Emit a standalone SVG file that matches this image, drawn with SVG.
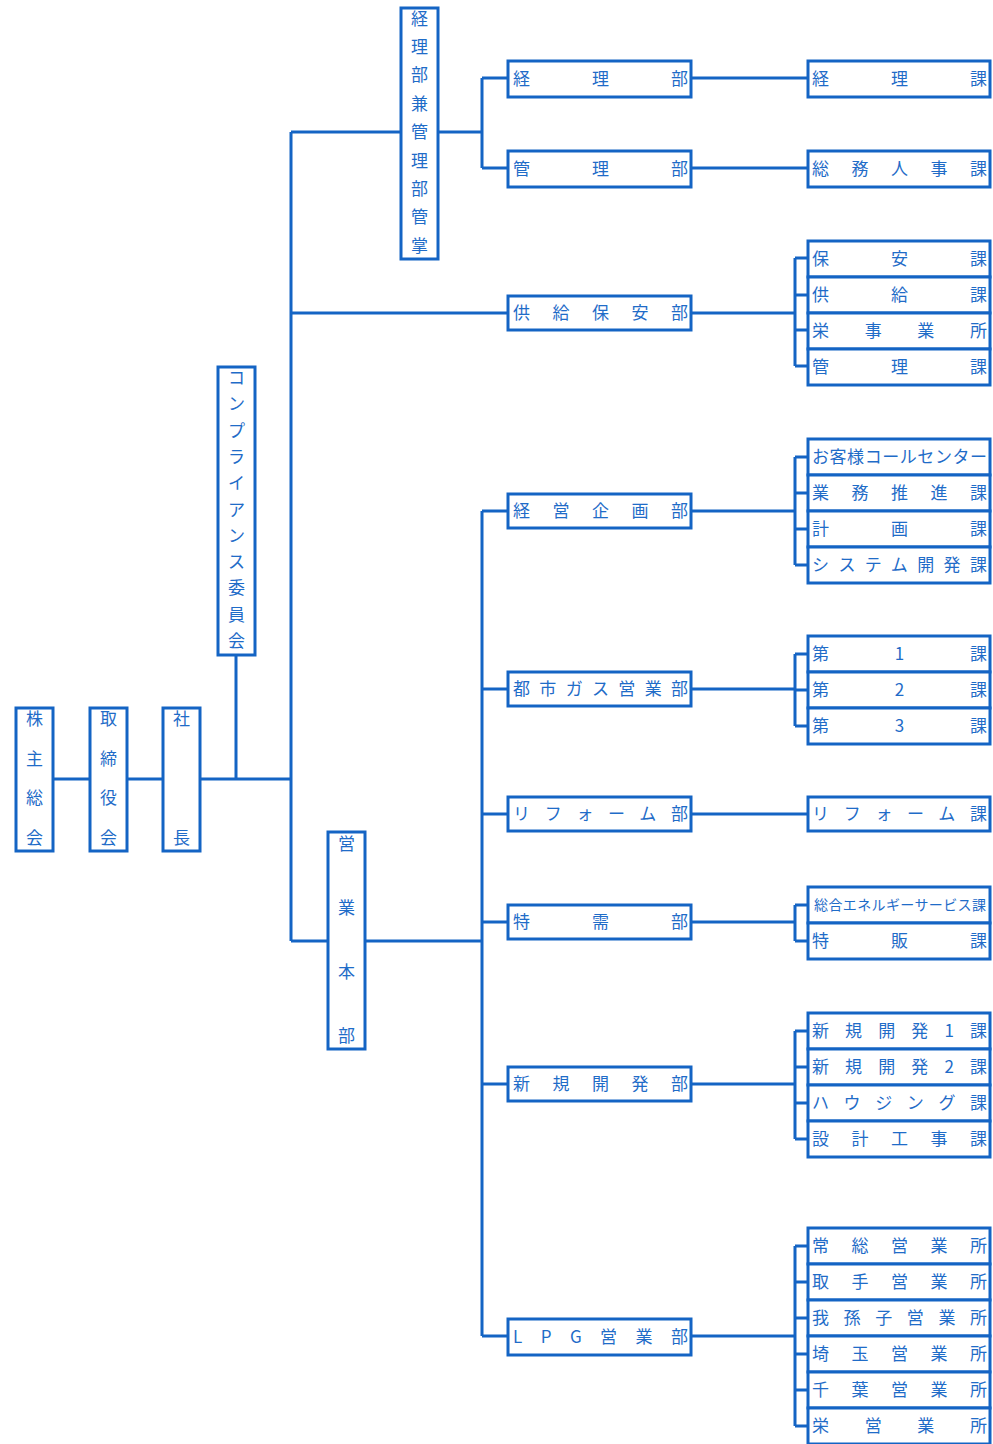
<svg xmlns="http://www.w3.org/2000/svg" width="993" height="1444" viewBox="0 0 993 1444">
<style>
.box{fill:#fff;stroke:#1464c4;stroke-width:3}
.ln{fill:none;stroke:#1464c4;stroke-width:3}
text{font-family:"Noto Sans CJK JP","Noto Sans CJK SC",sans-serif;font-size:17px;fill:#1f6cc8}
.vt{text-anchor:middle}
</style>
<rect width="993" height="1444" fill="#fff"/>
<g id="connectors">
<path class="ln" d="M53 779H90M127 779H163M200 779H291M236 655V779"/>
<path class="ln" d="M291 132V941M291 132H401M291 313H508M291 941H328"/>
<path class="ln" d="M438 132H482M482 78V168M482 78H508M482 168H508M691 78H808M691 168H808"/>
<path class="ln" d="M691 313H795M795 258V366M795 258H808M795 295H808M795 330H808M795 366H808"/>
<path class="ln" d="M365 941H482M482 511V1336M482 511H508M482 689H508M482 814H508M482 922H508M482 1084H508M482 1336H508"/>
<path class="ln" d="M691 511H795M795 457V565M795 457H808M795 493H808M795 529H808M795 565H808"/>
<path class="ln" d="M691 689H795M795 654V726M795 654H808M795 690H808M795 726H808"/>
<path class="ln" d="M691 814H808"/>
<path class="ln" d="M691 922H795M795 905V941M795 905H808M795 941H808"/>
<path class="ln" d="M691 1084H795M795 1031V1139M795 1031H808M795 1067H808M795 1103H808M795 1139H808"/>
<path class="ln" d="M691 1336H795M795 1246V1426M795 1246H808M795 1282H808M795 1318H808M795 1354H808M795 1390H808M795 1426H808"/>
</g>
<g id="n-kabunushi"><rect class="box" x="16" y="708" width="37" height="143"/><text class="vt"><tspan x="34.5" y="725">株</tspan><tspan x="34.5" y="765">主</tspan><tspan x="34.5" y="804">総</tspan><tspan x="34.5" y="844">会</tspan></text></g>
<g id="n-torishimari"><rect class="box" x="90" y="708" width="37" height="143"/><text class="vt"><tspan x="108.5" y="725">取</tspan><tspan x="108.5" y="765">締</tspan><tspan x="108.5" y="804">役</tspan><tspan x="108.5" y="844">会</tspan></text></g>
<g id="n-shacho"><rect class="box" x="163" y="708" width="37" height="143"/><text class="vt"><tspan x="181.5" y="725">社</tspan><tspan x="181.5" y="844">長</tspan></text></g>
<g id="n-compliance"><rect class="box" x="218" y="367" width="37" height="288"/><text class="vt"><tspan x="236.5" y="384">コ</tspan><tspan x="236.5" y="410">ン</tspan><tspan x="236.5" y="437">プ</tspan><tspan x="236.5" y="463">ラ</tspan><tspan x="236.5" y="489">イ</tspan><tspan x="236.5" y="516">ア</tspan><tspan x="236.5" y="542">ン</tspan><tspan x="236.5" y="568">ス</tspan><tspan x="236.5" y="594">委</tspan><tspan x="236.5" y="621">員</tspan><tspan x="236.5" y="647">会</tspan></text></g>
<g id="n-keiri-kanri"><rect class="box" x="401" y="8" width="37" height="251"/><text class="vt"><tspan x="419.5" y="25">経</tspan><tspan x="419.5" y="53">理</tspan><tspan x="419.5" y="81">部</tspan><tspan x="419.5" y="110">兼</tspan><tspan x="419.5" y="138">管</tspan><tspan x="419.5" y="167">理</tspan><tspan x="419.5" y="195">部</tspan><tspan x="419.5" y="223">管</tspan><tspan x="419.5" y="252">掌</tspan></text></g>
<g id="n-eigyohonbu"><rect class="box" x="328" y="832" width="37" height="217"/><text class="vt"><tspan x="346.5" y="850">営</tspan><tspan x="346.5" y="914">業</tspan><tspan x="346.5" y="978">本</tspan><tspan x="346.5" y="1042">部</tspan></text></g>
<g id="d-keiri"><rect class="box" x="508" y="61" width="183" height="36"/><text x="513" y="85" textLength="175" lengthAdjust="spacing">経理部</text></g>
<g id="d-kanri"><rect class="box" x="508" y="151" width="183" height="36"/><text x="513" y="175" textLength="175" lengthAdjust="spacing">管理部</text></g>
<g id="d-kyokyu"><rect class="box" x="508" y="296" width="183" height="34"/><text x="513" y="319" textLength="175" lengthAdjust="spacing">供給保安部</text></g>
<g id="d-keiei"><rect class="box" x="508" y="494" width="183" height="34"/><text x="513" y="517" textLength="175" lengthAdjust="spacing">経営企画部</text></g>
<g id="d-toshigas"><rect class="box" x="508" y="672" width="183" height="34"/><text x="513" y="695" textLength="175" lengthAdjust="spacing">都市ガス営業部</text></g>
<g id="d-reform"><rect class="box" x="508" y="797" width="183" height="34"/><text x="513" y="820" textLength="175" lengthAdjust="spacing">リフォーム部</text></g>
<g id="d-tokuju"><rect class="box" x="508" y="905" width="183" height="34"/><text x="513" y="928" textLength="175" lengthAdjust="spacing">特需部</text></g>
<g id="d-shinki"><rect class="box" x="508" y="1067" width="183" height="34"/><text x="513" y="1090" textLength="175" lengthAdjust="spacing">新規開発部</text></g>
<g id="d-lpg"><rect class="box" x="508" y="1319" width="183" height="36"/><text x="513" y="1343" textLength="175" lengthAdjust="spacing">LPG営業部</text></g>
<g id="s-keirika"><rect class="box" x="808" y="61" width="182" height="36"/><text x="812" y="85" textLength="175" lengthAdjust="spacing">経理課</text></g>
<g id="s-somu"><rect class="box" x="808" y="151" width="182" height="36"/><text x="812" y="175" textLength="175" lengthAdjust="spacing">総務人事課</text></g>
<g id="s-hoan"><rect class="box" x="808" y="241" width="182" height="36"/><text x="812" y="265" textLength="175" lengthAdjust="spacing">保安課</text></g>
<g id="s-kyokyuka"><rect class="box" x="808" y="277" width="182" height="36"/><text x="812" y="301" textLength="175" lengthAdjust="spacing">供給課</text></g>
<g id="s-sakae-jigyo"><rect class="box" x="808" y="313" width="182" height="36"/><text x="812" y="337" textLength="175" lengthAdjust="spacing">栄事業所</text></g>
<g id="s-kanrika"><rect class="box" x="808" y="349" width="182" height="36"/><text x="812" y="373" textLength="175" lengthAdjust="spacing">管理課</text></g>
<g id="s-call"><rect class="box" x="808" y="439" width="182" height="36"/><text x="812" y="463" textLength="175" lengthAdjust="spacing">お客様コールセンター</text></g>
<g id="s-gyomu"><rect class="box" x="808" y="475" width="182" height="36"/><text x="812" y="499" textLength="175" lengthAdjust="spacing">業務推進課</text></g>
<g id="s-keikaku"><rect class="box" x="808" y="511" width="182" height="36"/><text x="812" y="535" textLength="175" lengthAdjust="spacing">計画課</text></g>
<g id="s-system"><rect class="box" x="808" y="547" width="182" height="36"/><text x="812" y="571" textLength="175" lengthAdjust="spacing">システム開発課</text></g>
<g id="s-dai1"><rect class="box" x="808" y="636" width="182" height="36"/><text x="812" y="660" textLength="175" lengthAdjust="spacing">第1課</text></g>
<g id="s-dai2"><rect class="box" x="808" y="672" width="182" height="36"/><text x="812" y="696" textLength="175" lengthAdjust="spacing">第2課</text></g>
<g id="s-dai3"><rect class="box" x="808" y="708" width="182" height="36"/><text x="812" y="732" textLength="175" lengthAdjust="spacing">第3課</text></g>
<g id="s-reformka"><rect class="box" x="808" y="797" width="182" height="34"/><text x="812" y="820" textLength="175" lengthAdjust="spacing">リフォーム課</text></g>
<g id="s-sogo"><rect class="box" x="808" y="887" width="182" height="36"/><text x="814" y="910" textLength="172" lengthAdjust="spacing" style="font-size:14px">総合エネルギーサービス課</text></g>
<g id="s-tokuhan"><rect class="box" x="808" y="923" width="182" height="36"/><text x="812" y="947" textLength="175" lengthAdjust="spacing">特販課</text></g>
<g id="s-shinki1"><rect class="box" x="808" y="1013" width="182" height="36"/><text x="812" y="1037" textLength="175" lengthAdjust="spacing">新規開発1課</text></g>
<g id="s-shinki2"><rect class="box" x="808" y="1049" width="182" height="36"/><text x="812" y="1073" textLength="175" lengthAdjust="spacing">新規開発2課</text></g>
<g id="s-housing"><rect class="box" x="808" y="1085" width="182" height="36"/><text x="812" y="1109" textLength="175" lengthAdjust="spacing">ハウジング課</text></g>
<g id="s-sekkei"><rect class="box" x="808" y="1121" width="182" height="36"/><text x="812" y="1145" textLength="175" lengthAdjust="spacing">設計工事課</text></g>
<g id="s-joso"><rect class="box" x="808" y="1228" width="182" height="36"/><text x="812" y="1252" textLength="175" lengthAdjust="spacing">常総営業所</text></g>
<g id="s-toride"><rect class="box" x="808" y="1264" width="182" height="36"/><text x="812" y="1288" textLength="175" lengthAdjust="spacing">取手営業所</text></g>
<g id="s-abiko"><rect class="box" x="808" y="1300" width="182" height="36"/><text x="812" y="1324" textLength="175" lengthAdjust="spacing">我孫子営業所</text></g>
<g id="s-saitama"><rect class="box" x="808" y="1336" width="182" height="36"/><text x="812" y="1360" textLength="175" lengthAdjust="spacing">埼玉営業所</text></g>
<g id="s-chiba"><rect class="box" x="808" y="1372" width="182" height="36"/><text x="812" y="1396" textLength="175" lengthAdjust="spacing">千葉営業所</text></g>
<g id="s-sakae"><rect class="box" x="808" y="1408" width="182" height="36"/><text x="812" y="1432" textLength="175" lengthAdjust="spacing">栄営業所</text></g>
</svg>
